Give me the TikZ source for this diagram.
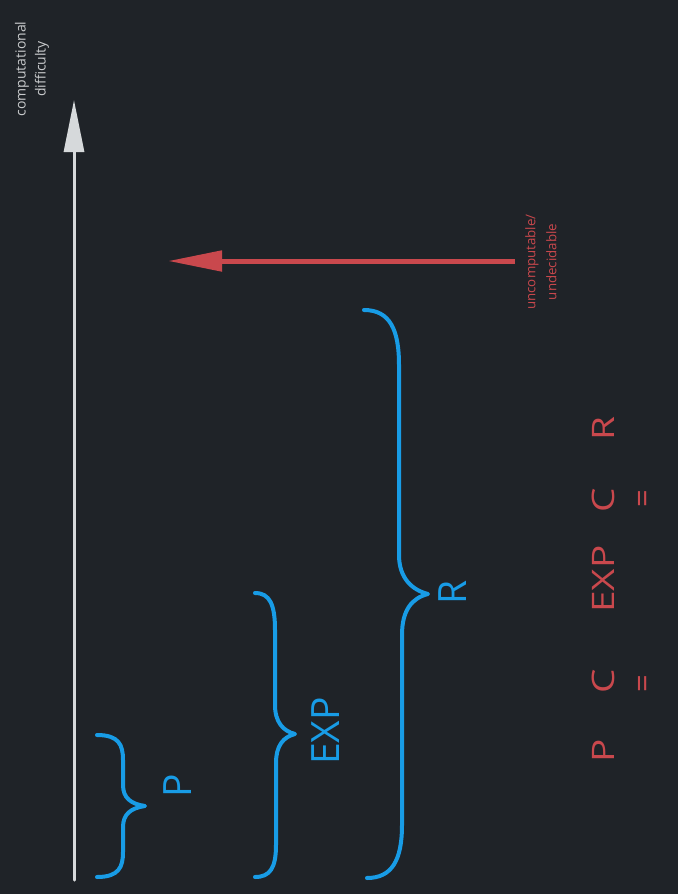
\documentclass[tikz,border=0pt]{standalone}
\usepackage{fontspec}
\setmainfont{Open Sans}
\usepackage{tikz}
\usetikzlibrary{arrows.meta}
\definecolor{BgDark}{RGB}{31, 35, 40}
\definecolor{AxisGray}{RGB}{214, 217, 219}
\definecolor{LabelGray}{RGB}{200, 202, 204}
\definecolor{AccentRed}{RGB}{201, 72, 77}
\definecolor{AccentBlue}{RGB}{24, 156, 230}
\newcommand{\widetext}[1]{\scalebox{1.25}[1]{#1}}

\begin{document}
\begin{tikzpicture}[x=1pt, y=-1pt,
    brace/.style={AccentBlue, line width=4pt, line cap=round, line join=round},
    classlbl/.style={AccentBlue, rotate=90, inner sep=0pt, font=\fontsize{39}{40}\selectfont},
    rellbl/.style={AccentRed, rotate=90, inner sep=0pt, font=\fontsize{31}{32}\selectfont},
    smalllbl/.style={rotate=90, inner sep=0pt, align=center}]
    % Background
    \fill[BgDark] (0,0) rectangle (678,894);
    \useasboundingbox (0,0) rectangle (678,894);

    % Difficulty axis
    \coordinate (axbot) at (74,880);
    \coordinate (axtop) at (74,100);
    \draw[AxisGray, line width=3pt, line cap=round, -{Triangle[length=52pt, width=20pt]}] (axbot) -- (axtop);
    \node[smalllbl, LabelGray, font=\fontsize{14}{20}\selectfont] (axlbl) at (32,69) {computational\\difficulty};

    % Uncomputable
    \coordinate (uncstart) at (515,261);
    \coordinate (unctip) at (168,261);
    \draw[AccentRed, line width=5pt, -{Triangle[length=54pt, width=20pt]}] (uncstart) -- (unctip);
    \node[smalllbl, AccentRed, font=\fontsize{13.3}{21}\selectfont] (unclbl) at (541,262) {uncomputable/\\undecidable};

    % Braces
    \draw[brace] (97,735) .. controls (119,735) and (123,745) .. (123,760) -- (123,785)
        .. controls (123,798) and (131,804) .. (145,806)
        .. controls (131,808) and (123,814) .. (123,827) -- (123,852)
        .. controls (123,867) and (119,877) .. (97,877);
    \node[classlbl] (plbl) at (178,786) {P};

    \draw[brace] (255,593) .. controls (270,593) and (275,605) .. (275,630) -- (275,705)
        .. controls (275,722) and (283,731) .. (295,734)
        .. controls (283,737) and (276,746) .. (276,763) -- (276,845)
        .. controls (276,868) and (270,877) .. (255,877);
    \node[classlbl] (explbl) at (326,731) {EXP};

    \draw[brace] (364,310) .. controls (390,310) and (399,330) .. (399,365) -- (399,555)
        .. controls (399,578) and (412,590) .. (428,594)
        .. controls (412,598) and (402,610) .. (402,635) -- (402,825)
        .. controls (402,860) and (392,878) .. (367,878);
    \node[classlbl] (rlbl) at (453,592) {R};

    % Relation P C EXP C R
    \node[rellbl] (relp) at (603,751) {\widetext{P}};
    \node[rellbl] (relsubA) at (603,681) {\widetext{C}};
    \node[rellbl] (relexp) at (603,579) {\widetext{EXP}};
    \node[rellbl] (relsubB) at (603,500) {\widetext{C}};
    \node[rellbl] (relr) at (603,429) {\widetext{R}};
    \node[rellbl] (releqA) at (646,684) {=};
    \node[rellbl] (releqB) at (646,499) {=};
\end{tikzpicture}
\end{document}
